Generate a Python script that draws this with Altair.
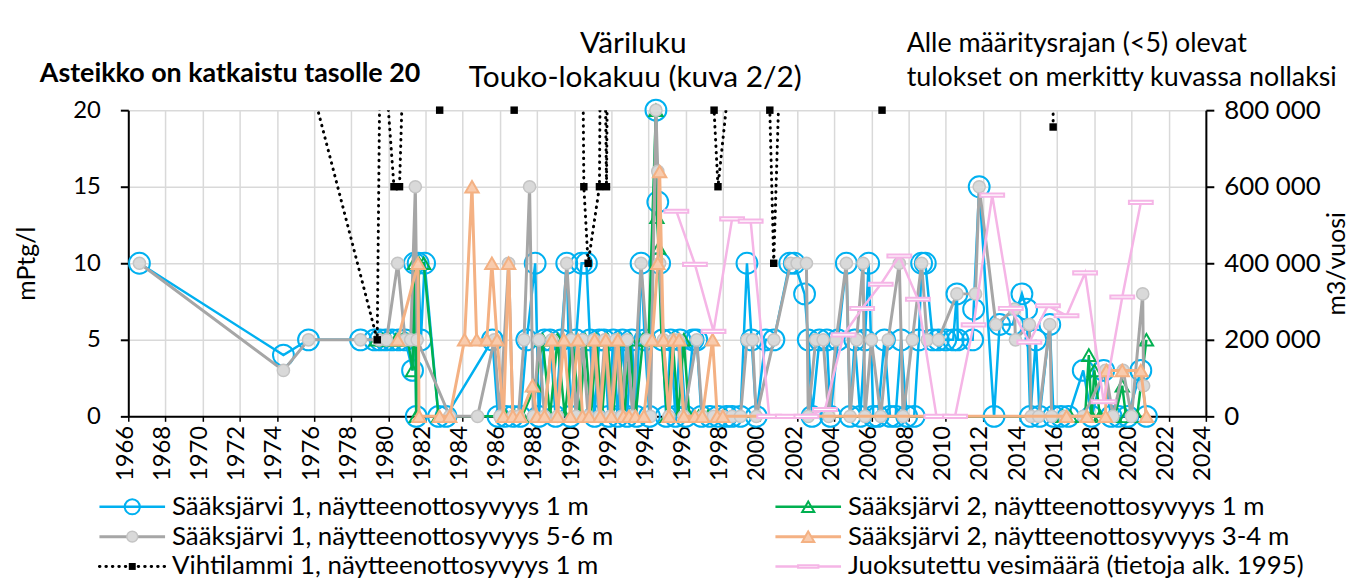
import altair as alt
import pandas as pd

# ---------------- data ----------------
s1_1m_year = [1966.6, 1974.35, 1975.7, 1978.5, 1979.25, 1979.55, 1979.85, 1980.2, 1980.55, 1980.9,
              1981.3, 1981.4, 1981.5, 1981.6, 1981.75, 1981.95, 1982.7, 1983.1, 1985.6, 1985.9,
              1986.3, 1986.7, 1987.1, 1987.45, 1987.9, 1988.1, 1988.4, 1988.7, 1989.0, 1989.3,
              1989.6, 1989.8, 1990.1, 1990.4, 1990.66, 1990.85, 1991.1, 1991.35, 1991.6, 1991.85,
              1992.1, 1992.35, 1992.6, 1992.85, 1993.1, 1993.35, 1993.6, 1993.8, 1994.05, 1994.4,
              1994.5, 1994.6, 1994.75, 1994.95, 1995.2, 1995.45, 1995.7, 1996.0, 1996.4, 1996.6,
              1996.85, 1997.3, 1997.75, 1998.2, 1998.5, 1998.95, 1999.3, 1999.55, 1999.8, 2000.3,
              2000.75, 2001.6, 2001.85, 2002.4, 2002.6, 2002.8, 2003.2, 2003.6, 2003.8, 2004.2,
              2004.65, 2004.85, 2005.1, 2005.4, 2005.65, 2005.85, 2006.1, 2006.35, 2006.7, 2007.0,
              2007.3, 2007.6, 2007.9, 2008.3, 2008.55, 2008.7, 2008.9, 2009.3, 2009.6, 2010.0,
              2010.4, 2010.6, 2010.65, 2011.45, 2011.5, 2011.8, 2012.6, 2012.9, 2013.6, 2014.1,
              2014.35, 2014.55, 2014.85, 2015.05, 2015.6, 2015.8, 2016.2, 2016.6, 2017.4, 2017.85,
              2018.5, 2018.9, 2019.3, 2019.8, 2020.5, 2020.8]
s1_1m_val = [10, 4, 5, 5, 5, 5, 5, 5, 5, 5,
             3, 10, 0, 10, 5, 10, 0, 0, 5, 0,
             0, 0, 0, 5, 10, 0, 5, 5, 0, 5,
             10, 0, 5, 10, 10, 5, 0, 5, 5, 0,
             5, 0, 5, 0, 5, 0, 10, 5, 0, 20,
             14, 10, 5, 0, 5, 0, 5, 0, 5, 5,
             0, 0, 0, 0, 0, 0, 10, 5, 0, 5,
             5, 10, 10, 8, 5, 0, 5, 5, 0, 5,
             10, 0, 5, 0, 5, 10, 0, 0, 5, 0,
             0, 5, 0, 0, 5, 10, 10, 5, 5, 5,
             5, 8, 5, 5, 7, 15, 0, 6, 6, 8,
             7, 0, 5, 0, 6, 0, 0, 0, 3, 0,
             3, 0, 0, 0, 3, 0]

s1_56_year = [1966.6, 1974.35, 1975.7, 1978.5, 1979.5, 1979.9, 1980.5, 1980.9, 1981.2, 1981.45,
              1981.55, 1983.3, 1984.8, 1985.7, 1986.0, 1986.47, 1986.7, 1987.0, 1987.3, 1987.6,
              1987.8, 1988.1, 1988.4, 1988.8, 1989.1, 1989.6, 1989.85, 1990.1, 1990.45, 1990.75,
              1991.05, 1991.35, 1991.65, 1991.95, 1992.25, 1992.55, 1992.85, 1993.15, 1993.6, 1993.9,
              1994.1, 1994.4, 1994.5, 1994.6, 1994.8, 1995.1, 1995.35, 1995.6, 1995.9, 1996.6,
              1996.9, 1997.5, 1998.0, 1998.5, 1998.95, 1999.3, 1999.6, 1999.8, 2000.75, 2001.65,
              2002.0, 2002.5, 2002.6, 2003.0, 2003.4, 2003.7, 2004.1, 2004.65, 2004.85, 2005.2,
              2005.55, 2005.65, 2006.0, 2006.5, 2006.9, 2007.5, 2007.7, 2008.2, 2008.7, 2009.0,
              2009.6, 2010.6, 2011.6, 2011.8, 2012.7, 2013.7, 2013.75, 2014.5, 2014.6, 2015.0,
              2015.6, 2015.7, 2016.4, 2017.4, 2018.6, 2019.0, 2019.55, 2020.0, 2020.6, 2020.65]
s1_56_val = [10, 3, 5, 5, 5, 5, 10, 5, 5, 15,
             5, 0, 0, 5, 0, 10, 0, 0, 5, 15,
             0, 5, 0, 5, 0, 10, 5, 0, 5, 0,
             5, 0, 5, 0, 5, 0, 5, 0, 10, 5,
             0, 20, 16, 10, 5, 0, 5, 5, 0, 5,
             0, 0, 0, 0, 0, 5, 5, 0, 5, 10,
             10, 10, 0, 5, 5, 0, 5, 10, 0, 5,
             10, 0, 5, 0, 5, 10, 0, 5, 10, 5,
             5, 8, 8, 15, 6, 7, 5, 6, 0, 0,
             6, 0, 0, 0, 3, 0, 3, 0, 8, 2]

s2_1m_year = [1979.35, 1979.7, 1980.05, 1980.4, 1980.75, 1981.05, 1981.3, 1981.4, 1981.5, 1981.65,
              1981.9, 1982.7, 1986.3, 1986.8, 1987.2, 1987.9, 1988.3, 1988.7, 1989.1, 1989.5,
              1989.9, 1990.3, 1990.6, 1990.9, 1991.2, 1991.5, 1991.8, 1992.1, 1992.4, 1992.7,
              1993.0, 1993.3, 1993.7, 1994.0, 1994.4, 1994.45, 1994.55, 1994.7, 1995.0, 1995.3,
              1995.6, 1995.9, 1996.2, 1996.7, 1997.2, 1997.7, 1998.1, 2016.3, 2016.7, 2017.5,
              2017.7, 2017.85, 2018.0, 2018.3, 2019.1, 2019.5, 2019.7, 2020.3, 2020.8]
s2_1m_val = [5, 5, 5, 5, 5, 5, 3, 10, 0, 10,
             10, 0, 0, 0, 0, 2, 5, 0, 5, 0,
             5, 0, 5, 0, 5, 0, 5, 0, 5, 0,
             5, 0, 5, 5, 20, 13, 11, 5, 0, 5,
             0, 5, 0, 0, 0, 0, 0, 0, 0, 0,
             4, 0, 3, 0, 0, 2, 0, 0, 5]

s2_34_year = [1980.5, 1981.6, 1981.65, 1982.75, 1983.3, 1984.1, 1984.5, 1984.75, 1985.3, 1985.57,
              1985.85, 1986.2, 1986.47, 1986.7, 1987.1, 1987.75, 1988.0, 1988.4, 1988.8, 1989.1,
              1989.45, 1989.8, 1990.2, 1990.45, 1990.8, 1991.1, 1991.4, 1991.7, 1992.0, 1992.35,
              1992.65, 1992.95, 1993.3, 1993.75, 1994.2, 1994.5, 1994.6, 1994.8, 1995.1, 1995.35,
              1995.65, 1995.9, 1996.5, 1996.9, 1997.45, 1997.7, 1998.0, 2016.5, 2017.6, 2018.6,
              2018.65, 2019.5, 2020.5, 2020.8]
s2_34_val = [5, 10, 0, 0, 0, 5, 15, 5, 5, 10,
             5, 0, 10, 0, 0, 2, 0, 0, 5, 0,
             5, 0, 5, 0, 0, 5, 0, 5, 0, 5,
             0, 0, 0, 0, 5, 10, 16, 5, 0, 5,
             5, 0, 0, 0, 5, 0, 0, 0, 0, 0,
             3, 3, 3, 0]

vihti_year = [1974.5, 1979.4, 1979.58, 1980.3, 1980.6, 1981.2, 1982.76, 1984.0, 1986.77, 1988.5,
              1990.36, 1990.52, 1990.75, 1991.36, 1991.5, 1991.74, 1991.9, 1994.0, 1997.53, 1997.74,
              1999.9, 2000.53, 2000.74, 2001.5, 2006.57, 2015.72, 2015.78]
vihti_val = [28, 5, 27, 15, 15, 40, 20, 40, 20, 40,
             40, 15, 10, 15, 40, 15, 40, 40, 20, 15,
             40, 20, 10, 40, 20, 80, 18.9]

flow_year = list(range(1995, 2021))
flow_m3 = [536000, 397000, 222000, 516000, 510000, 0, 0, 0, 18000, 213000,
           282000, 345000, 419000, 306000, 0, 0, 239000, 578000, 282000, 194000,
           289000, 263000, 375000, 38000, 312000, 559000]

legend_labels = ["Sääksjärvi 1, näytteenottosyvyys 1 m",
                 "Sääksjärvi 2, näytteenottosyvyys 1 m",
                 "Sääksjärvi 1, näytteenottosyvyys 5-6 m",
                 "Sääksjärvi 2, näytteenottosyvyys 3-4 m",
                 "Vihtilammi 1, näytteenottosyvyys 1 m",
                 "Juoksutettu vesimäärä (tietoja alk. 1995)"]

x_ticks = list(range(1966, 2025, 2))
y_ticks = [0, 5, 10, 15, 20]
y2_ticks = [0, 200000, 400000, 600000, 800000]

# ---------------- layout / style ----------------
FONT = "Lato"
W, H = 1084, 308
BAR = "M-1,-0.13L1,-0.13L1,0.13L-1,0.13Z"

XS = alt.Scale(domain=[1966, 2024], nice=False, zero=False)
YS = alt.Scale(domain=[0, 20], nice=False, zero=False)
Y2S = alt.Scale(domain=[0, 800000], nice=False, zero=False)

styles = {
    "s1_1m": dict(color="#00B0F0", lw=2.5, dash=None, shape="circle", size=440, fill="transparent",
                  stroke="#00B0F0", sw=2, lsize=230),
    "s2_1m": dict(color="#00B050", lw=2.5, dash=None, shape="triangle-up", size=180, fill="transparent",
                  stroke="#00B050", sw=2, lsize=150),
    "s1_56": dict(color="#A6A6A6", lw=3, dash=None, shape="circle", size=150, fill="#D9D9D9",
                  stroke="#C4C4C4", sw=1.5, lsize=120),
    "s2_34": dict(color="#F4B183", lw=3, dash=None, shape="triangle-up", size=180, fill="#F8CBAD",
                  stroke="#F4B183", sw=2, lsize=150),
    "vihti": dict(color="#000000", lw=3, dash=[0.5, 6], shape="square", size=56, fill="#000000",
                  stroke="#000000", sw=0, lsize=49),
    "flow": dict(color="#F5B5E6", lw=2.5, dash=None, shape=BAR, size=576, fill="#FFFFFF",
                 stroke="#F5B5E6", sw=2, lsize=420),
}
order = ["s1_1m", "s2_1m", "s1_56", "s2_34", "vihti", "flow"]

frames = {
    "s1_1m": pd.DataFrame({"x": s1_1m_year, "y": s1_1m_val}),
    "s2_1m": pd.DataFrame({"x": s2_1m_year, "y": s2_1m_val}),
    "s1_56": pd.DataFrame({"x": s1_56_year, "y": s1_56_val}),
    "s2_34": pd.DataFrame({"x": s2_34_year, "y": s2_34_val}),
    "vihti": pd.DataFrame({"x": vihti_year, "y": vihti_val}),
    "flow": pd.DataFrame({"x": [y + 0.5 for y in flow_year], "y": flow_m3}),
}

x_axis = alt.Axis(values=x_ticks, format="d", labelAngle=270, labelFont=FONT, labelFontSize=24,
                  labelColor="#000000", labelPadding=4, labelOffset=-3, grid=True, gridColor="#D9D9D9",
                  gridWidth=1.5, domainColor="#000000", domainWidth=2, ticks=True, tickColor="#000000",
                  tickWidth=1.5, tickSize=5, title=None)
y_axis = alt.Axis(values=y_ticks, labelFont=FONT, labelFontSize=24, labelColor="#000000",
                  labelPadding=20, grid=True, gridColor="#D9D9D9", gridWidth=1.5,
                  domainColor="#000000", domainWidth=2, tickColor="#000000", tickWidth=2, tickSize=8,
                  title="mPtg/l", titleFont=FONT, titleFontSize=25, titleFontWeight="normal",
                  titleColor="#000000", titleAngle=270, titleX=-102, titleY=H / 2,
                  titleAlign="center", titleBaseline="middle")
y2_axis = alt.Axis(values=y2_ticks, orient="right",
                   labelExpr="replace(format(datum.value, ','), ',', ' ')",
                   labelFont=FONT, labelFontSize=26, labelColor="#000000", labelPadding=10, grid=False,
                   domainColor="#000000", domainWidth=2, tickColor="#000000", tickWidth=2, tickSize=8,
                   title="m3/vuosi", titleFont=FONT, titleFontSize=25, titleFontWeight="normal",
                   titleColor="#000000", titleAngle=270, titleX=131, titleY=H / 2,
                   titleAlign="center", titleBaseline="middle")

layers = []
for key in order:
    st = styles[key]
    df = frames[key]
    yscale = Y2S if key == "flow" else YS
    if key == "s1_1m":
        xa, ya = x_axis, y_axis
    elif key == "flow":
        xa, ya = None, y2_axis
    else:
        xa, ya = None, None
    line_kw = dict(color=st["color"], strokeWidth=st["lw"], clip=(key == "vihti"))
    if st["dash"]:
        line_kw.update(strokeDash=st["dash"], strokeCap="round")
    layers.append(alt.Chart(df).mark_line(**line_kw).encode(
        x=alt.X("x:Q", scale=XS, axis=xa),
        y=alt.Y("y:Q", scale=yscale, axis=ya),
    ))
    pdf = df[df["y"] <= 20] if key == "vihti" else df
    layers.append(alt.Chart(pdf).mark_point(
        shape=st["shape"], size=st["size"], filled=True, fill=st["fill"], stroke=st["stroke"],
        strokeWidth=st["sw"], opacity=1).encode(
        x=alt.X("x:Q", scale=XS, axis=None),
        y=alt.Y("y:Q", scale=yscale, axis=None),
    ))

# ---------------- legend (two columns, three rows below the axis) ----------------
LEG_COL_X = [4, 684]         # marker centres, px from plot left
LEG_ROW_Y = [399, 429, 459]  # px from plot top
LX = alt.Scale(domain=[0, W], range=[0, W])
LY = alt.Scale(domain=[0, H], range=[0, H])
leg_keys = ["s1_1m", "s2_1m", "s1_56", "s2_34", "vihti", "flow"]
for i, key in enumerate(leg_keys):
    st = styles[key]
    c, r = i % 2, i // 2
    ldf = pd.DataFrame({"x1": [LEG_COL_X[c] - 33], "x2": [LEG_COL_X[c] + 33], "xm": [LEG_COL_X[c]],
                        "xt": [LEG_COL_X[c] + 40], "yy": [LEG_ROW_Y[r]], "label": [legend_labels[i]]})
    rule_kw = dict(color=st["color"], strokeWidth=st["lw"])
    if st["dash"]:
        rule_kw.update(strokeDash=st["dash"], strokeCap="round")
    layers.append(alt.Chart(ldf).mark_rule(**rule_kw).encode(
        x=alt.X("x1:Q", scale=LX, axis=None), x2="x2:Q",
        y=alt.Y("yy:Q", scale=LY, axis=None)))
    layers.append(alt.Chart(ldf).mark_point(
        shape=st["shape"], size=st["lsize"], filled=True, fill=st["fill"], stroke=st["stroke"],
        strokeWidth=st["sw"], opacity=1).encode(
        x=alt.X("xm:Q", scale=LX, axis=None), y=alt.Y("yy:Q", scale=LY, axis=None)))
    layers.append(alt.Chart(ldf).mark_text(
        align="left", baseline="middle", font=FONT, fontSize=26, color="#000000").encode(
        x=alt.X("xt:Q", scale=LX, axis=None), y=alt.Y("yy:Q", scale=LY, axis=None), text="label:N"))

# ---------------- titles / notes ----------------
one = pd.DataFrame({"a": [0]})

def note(text, x, y, align="left", weight="normal", size=27):
    return alt.Chart(one).mark_text(text=text, align=align, baseline="middle", font=FONT,
                                    fontSize=size, fontWeight=weight, color="#000000").encode(
        x=alt.value(x), y=alt.value(y))

layers += [
    note("Väriluku", 508, -67, align="center", size=30),
    note("Touko-lokakuu (kuva 2/2)", 510, -32, align="center", size=30),
    note("Asteikko on katkaistu tasolle 20", -89, -36, weight="bold", size=27),
    note("Alle määritysrajan (<5) olevat", 783, -67),
    note("tulokset on merkitty kuvassa nollaksi", 783, -32),
]

chart = alt.layer(*layers).resolve_scale(x="independent", y="independent").properties(
    width=W, height=H,
    autosize=alt.AutoSizeParams(type="none"),
    padding={"left": 121, "top": 101, "right": 146, "bottom": 190},
    background="#FFFFFF",
).configure_view(stroke=None)

chart.save("out.html", embed_options={"renderer": "svg", "actions": False})
